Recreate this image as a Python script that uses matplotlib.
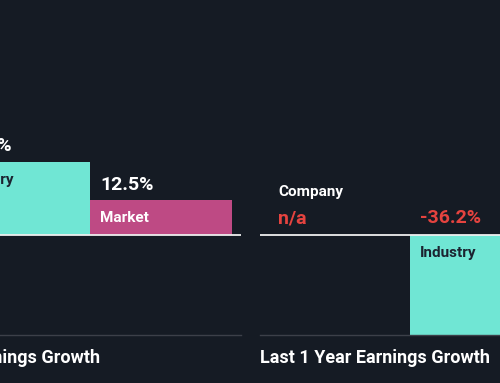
import matplotlib.pyplot as plt

# chart values (the crop hides the left company bar and the right market bar)
titles = ["Past 5 Years Annual Earnings Growth", "Last 1 Year Earnings Growth"]
categories = ["Company", "Industry", "Market"]
past_growth = [None, 26.4, 12.5]
last_growth = [None, -36.2, 12.5]

bg = "#151b24"
bar_colors = {"Company": "#2394df", "Industry": "#70e6d4", "Market": "#be4a84"}
label_colors = {"Company": "white", "Industry": "#1b2330", "Market": "white"}
red = "#e5433f"

plt.rcParams["font.family"] = ["Roboto", "DejaVu Sans"]

fig = plt.figure(figsize=(5, 3.83), dpi=100, facecolor=bg)
W, H = 500, 383

# panel placement in pixels (left edge, width), both share baseline and scale
panels = [(-202, 443), (260, 443)]
bottom_px = 335
ymin = min(v for v in past_growth + last_growth if v is not None)
ylims = (ymin, -ymin * 2.35)


def draw_panel(ax, values, title):
    ax.set_facecolor(bg)
    for i, (cat, v) in enumerate(zip(categories, values)):
        if v is None:
            ax.annotate("n/a", (i - 0.5, 0), xytext=(7.2, 12), textcoords="offset points",
                        color=red, fontsize=14, fontweight="semibold", va="center")
            ax.annotate(cat, (i - 0.5, 0), xytext=(7.2, 31), textcoords="offset points",
                        color="white", fontsize=11, fontweight="bold", va="center")
            continue
        ax.bar(i, v, width=1.0, color=bar_colors[cat], zorder=2)
        if v >= 0:
            ax.annotate(f"{v:.1f}%", (i - 0.5, v), xytext=(7.2, 11.3), textcoords="offset points",
                        color="white", fontsize=14, fontweight="semibold", va="center")
            ax.annotate(cat, (i - 0.5, v), xytext=(7.2, -12.6), textcoords="offset points",
                        color=label_colors[cat], fontsize=11, fontweight="bold", va="center", zorder=3)
        else:
            ax.annotate(f"{v:.1f}%", (i - 0.5, 0), xytext=(7.2, 12), textcoords="offset points",
                        color=red, fontsize=14, fontweight="semibold", va="center")
            ax.annotate(cat, (i - 0.5, 0), xytext=(7.2, -13), textcoords="offset points",
                        color=label_colors[cat], fontsize=11, fontweight="bold", va="center", zorder=3)
    ax.axhline(0, color="#eeeeee", lw=1.3, zorder=3)
    ax.set_xlim(-0.5 - 8 / 142, 2.5 + 9 / 142)
    ax.set_ylim(*ylims)
    for s in ["top", "right", "left"]:
        ax.spines[s].set_visible(False)
    ax.spines["bottom"].set_color("#3c4049")
    ax.spines["bottom"].set_linewidth(1.0)
    ax.set_xticks([])
    ax.set_yticks([])
    ax.annotate(title, (0, 0), xycoords="axes fraction", xytext=(0, -16.5),
                textcoords="offset points", color="white", fontsize=13,
                fontweight="bold", va="center", ha="left")


for (x0, w), vals, title in zip(panels, [past_growth, last_growth], titles):
    ax = fig.add_axes([x0 / W, (H - bottom_px) / H, w / W, bottom_px / H])
    draw_panel(ax, vals, title)

fig.savefig("out.png", dpi=100, facecolor=bg)
